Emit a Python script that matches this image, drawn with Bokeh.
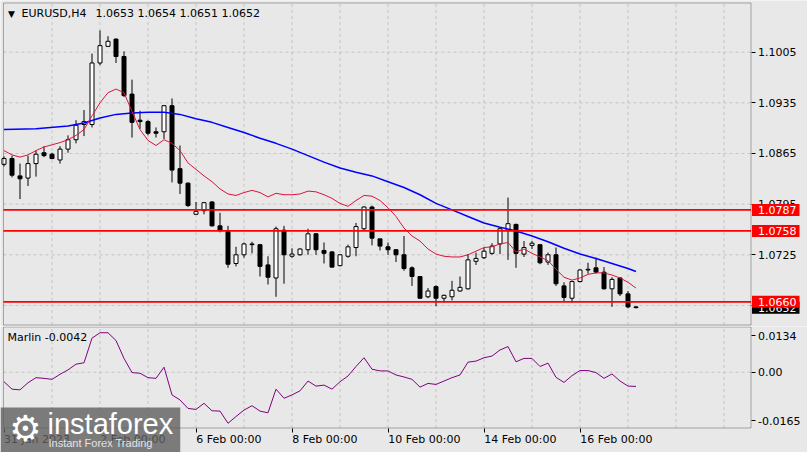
from bokeh.plotting import figure
from bokeh.layouts import column
from bokeh.models import (ColumnDataSource, FixedTicker, Range1d, Label, BoxAnnotation,
                          PrintfTickFormatter)
from bokeh.embed import file_html
from bokeh.resources import INLINE

# ---------------- data (EURUSD H4, bar 0 = 31 Jan 2023 00:00) ----------------
bars = list(range(80))
opens = [1.0850, 1.0858, 1.0834, 1.0831, 1.0851, 1.0866, 1.0864, 1.0856, 1.0871, 1.0884,
         1.0905, 1.0905, 1.0990, 1.1013, 1.1023, 1.0999, 1.0947, 1.0911, 1.0909, 1.0895,
         1.0895, 1.0931, 1.0844, 1.0824, 1.0781, 1.0786, 1.0798, 1.0765, 1.0757, 1.0713,
         1.0725, 1.0740, 1.0739, 1.0711, 1.0693, 1.0759, 1.0723, 1.0725, 1.0732, 1.0754,
         1.0731, 1.0729, 1.0710, 1.0723, 1.0735, 1.0761, 1.0791, 1.0747, 1.0736, 1.0732,
         1.0725, 1.0707, 1.0695, 1.0667, 1.0681, 1.0665, 1.0667, 1.0675, 1.0678, 1.0716,
         1.0721, 1.0727, 1.0740, 1.0759, 1.0767, 1.0726, 1.0738, 1.0739, 1.0715, 1.0725,
         1.0682, 1.0665, 1.0688, 1.0704, 1.0707, 1.0701, 1.0678, 1.0693, 1.0671, 1.0653]
highs = [1.0861, 1.0862, 1.0851, 1.0862, 1.0869, 1.0875, 1.0866, 1.0875, 1.0890, 1.0911,
         1.0925, 1.1003, 1.1035, 1.1027, 1.1024, 1.1006, 1.0967, 1.0924, 1.0911, 1.0901,
         1.0932, 1.0941, 1.0876, 1.0825, 1.0798, 1.0798, 1.0799, 1.0783, 1.0765, 1.0736,
         1.0742, 1.0743, 1.0740, 1.0723, 1.0764, 1.0765, 1.0734, 1.0734, 1.0761, 1.0755,
         1.0742, 1.0730, 1.0726, 1.0739, 1.0769, 1.0792, 1.0793, 1.0747, 1.0742, 1.0733,
         1.0751, 1.0709, 1.0695, 1.0679, 1.0683, 1.0670, 1.0689, 1.0695, 1.0726, 1.0728,
         1.0735, 1.0741, 1.0763, 1.0804, 1.0768, 1.0744, 1.0744, 1.0739, 1.0728, 1.0735,
         1.0687, 1.0689, 1.0705, 1.0714, 1.0721, 1.0708, 1.0694, 1.0694, 1.0675, 1.0654]
lows = [1.0847, 1.0832, 1.0802, 1.0820, 1.0833, 1.0860, 1.0857, 1.0851, 1.0866, 1.0879,
        1.0889, 1.0901, 1.0987, 1.1012, 1.0990, 1.0943, 1.0887, 1.0899, 1.0890, 1.0887,
        1.0885, 1.0825, 1.0809, 1.0791, 1.0780, 1.0781, 1.0764, 1.0756, 1.0707, 1.0709,
        1.0721, 1.0727, 1.0695, 1.0684, 1.0667, 1.0685, 1.0721, 1.0724, 1.0725, 1.0725,
        1.0713, 1.0707, 1.0709, 1.0721, 1.0723, 1.0758, 1.0738, 1.0731, 1.0725, 1.0715,
        1.0703, 1.0682, 1.0664, 1.0665, 1.0654, 1.0659, 1.0662, 1.0674, 1.0677, 1.0711,
        1.0719, 1.0725, 1.0726, 1.0718, 1.0707, 1.0722, 1.0733, 1.0712, 1.0711, 1.0682,
        1.0661, 1.0659, 1.0687, 1.0699, 1.0699, 1.0677, 1.0653, 1.0668, 1.0651, 1.0651]
closes = [1.0858, 1.0835, 1.0830, 1.0851, 1.0864, 1.0862, 1.0858, 1.0871, 1.0884, 1.0904,
          1.0909, 1.0990, 1.1014, 1.1020, 1.0999, 1.0945, 1.0908, 1.0909, 1.0893, 1.0893,
          1.0931, 1.0842, 1.0824, 1.0793, 1.0785, 1.0797, 1.0765, 1.0759, 1.0712, 1.0725,
          1.0740, 1.0739, 1.0709, 1.0694, 1.0761, 1.0725, 1.0726, 1.0733, 1.0754, 1.0732,
          1.0727, 1.0708, 1.0725, 1.0736, 1.0764, 1.0791, 1.0748, 1.0737, 1.0732, 1.0725,
          1.0706, 1.0695, 1.0665, 1.0675, 1.0665, 1.0669, 1.0676, 1.0680, 1.0718, 1.0720,
          1.0730, 1.0737, 1.0761, 1.0768, 1.0727, 1.0735, 1.0741, 1.0714, 1.0725, 1.0685,
          1.0666, 1.0688, 1.0704, 1.0705, 1.0701, 1.0678, 1.0691, 1.0671, 1.0653, 1.0652]

# red (fast) moving average, one value per bar
ma_fast = [1.0869, 1.0863, 1.0860, 1.0863, 1.0869, 1.0874, 1.0877, 1.0880, 1.0884, 1.0890,
           1.0898, 1.0917, 1.0935, 1.0949, 1.0954, 1.0949, 1.0923, 1.0898, 1.0883, 1.0876,
           1.0884, 1.0879, 1.0869, 1.0852, 1.0843, 1.0834, 1.0826, 1.0816, 1.0809, 1.0807,
           1.0811, 1.0814, 1.0811, 1.0805, 1.0810, 1.0808, 1.0808, 1.0809, 1.0813, 1.0812,
           1.0808, 1.0803, 1.0796, 1.0792, 1.0800, 1.0807, 1.0806, 1.0800, 1.0790, 1.0778,
           1.0762, 1.0751, 1.0744, 1.0733, 1.0726, 1.0723, 1.0722, 1.0722, 1.0725, 1.0730,
           1.0735, 1.0736, 1.0740, 1.0742, 1.0729, 1.0733, 1.0727, 1.0722, 1.0717, 1.0705,
           1.0694, 1.0690, 1.0693, 1.0698, 1.0700, 1.0700, 1.0697, 1.0693, 1.0687, 1.0679]

# blue (slow) moving average, read at these bars
ma_slow_bars = [0, 4, 8, 10, 12, 14, 16, 18, 20, 22, 24, 26, 28, 30, 32, 34, 36, 38, 40,
                42, 44, 46, 48, 50, 52, 54, 56, 58, 60, 62, 64, 66, 68, 70, 72, 74, 76, 78, 79]
ma_slow = [1.0898, 1.0899, 1.0903, 1.0907, 1.0914, 1.0919, 1.0921, 1.0922, 1.0922, 1.0919,
           1.0913, 1.0908, 1.0901, 1.0894, 1.0886, 1.0879, 1.0871, 1.0862, 1.0853, 1.0845,
           1.0839, 1.0834, 1.0826, 1.0818, 1.0808, 1.0796, 1.0787, 1.0778, 1.0769, 1.0763,
           1.0758, 1.0751, 1.0743, 1.0734, 1.0726, 1.0720, 1.0713, 1.0706, 1.0702]

# Marlin oscillator
marlin = [-0.0028, -0.0050, -0.0052, -0.0031, -0.0016, -0.0018, -0.0021, -0.0006, 0.0007, 0.0024,
          0.0028, 0.0101, 0.0117, 0.0117, 0.0094, 0.0041, -0.0001, -0.0003, -0.0016, -0.0018,
          0.0015, -0.0067, -0.0082, -0.0107, -0.0110, -0.0092, -0.0114, -0.0115, -0.0151, -0.0131,
          -0.0112, -0.0099, -0.0115, -0.0120, -0.0050, -0.0077, -0.0067, -0.0055, -0.0026, -0.0041,
          -0.0038, -0.0050, -0.0028, -0.0011, 0.0017, 0.0043, 0.0009, 0.0004, 0.0004, -0.0008,
          -0.0014, -0.0021, -0.0044, -0.0033, -0.0036, -0.0026, -0.0016, -0.0008, 0.0030, 0.0033,
          0.0043, 0.0048, 0.0066, 0.0076, 0.0031, 0.0041, 0.0041, 0.0017, 0.0027, -0.0015,
          -0.0030, -0.0010, 0.0005, 0.0005, -0.0001, -0.0018, -0.0005, -0.0026, -0.0041, -0.0042]

levels = [1.0787, 1.0758, 1.0660]
last_price = 1.0652
price_ticks = [1.1005, 1.0935, 1.0865, 1.0795, 1.0725, 1.0655]
price_top, price_bottom = 1.10729, 1.06280          # visible price window
date_ticks = [0, 12, 24, 36, 48, 60, 72]
date_labels = ["31 Jan 2023", "2 Feb 00:00", "6 Feb 00:00", "8 Feb 00:00",
               "10 Feb 00:00", "14 Feb 00:00", "16 Feb 00:00"]
grid_bars = list(range(6, 91, 6))
marlin_max, marlin_min = 0.0134, -0.0165
marlin_tick_labels = ["0.0134", "0.00", "-0.0165"]
title_symbol = "EURUSD,H4"
title_ohlc = "1.0653 1.0654 1.0651 1.0652"
indicator_name = "Marlin -0.0042"

# ---------------- layout / style ----------------
BG = "#e8e8e8"
GRID = "#c4c4c4"
FONT = "DejaVu Sans"
FS = "11px"
W = 807
P1_H, P2_H = 326, 126
PXB = 8.0                                  # pixels per bar
XS = -3.5 / PXB                            # frame left (data)


def xd(px):                                # canvas pixel -> bar units
    return XS + px / PXB


XL, XR = xd(3.0), xd(750.5)                # chart box left / right
x_range = Range1d(XS, xd(W))
B1_TOP, B1_BOT = 2.5, 324.5                # main box edges (canvas px)
B2_TOP, B2_BOT = 0.5, 101.5                # indicator box edges (canvas px)
u1 = (price_top - price_bottom) / (B1_BOT - B1_TOP)
u2 = (marlin_max - marlin_min) / (B2_BOT - B2_TOP)
Y1_FT = price_top + B1_TOP * u1            # value at canvas top of each panel
Y2_FT = marlin_max + B2_TOP * u2
y1 = Range1d(Y1_FT - P1_H * u1, Y1_FT)
y2 = Range1d(Y2_FT - P2_H * u2, Y2_FT)


def y1d(py):
    return Y1_FT - py * u1


def y2d(py):
    return Y2_FT - py * u2


# DejaVu Sans advance widths (em) for centring the date labels on the axis
ADV = {" ": 0.3179, ":": 0.3369, "J": 0.2949, "a": 0.6128, "n": 0.6338, "F": 0.5752,
       "e": 0.6152, "b": 0.6348}
ADV.update({d: 0.6362 for d in "0123456789"})


def text_px(s, size=11.0):
    return sum(ADV.get(ch, 0.6) for ch in s) * size


def make_fig(height, yr):
    p = figure(width=W, height=height, x_range=x_range, y_range=yr, title=None,
               output_backend="svg", toolbar_location=None,
               y_axis_location="right", x_axis_location="below",
               min_border=0, min_border_left=0, min_border_right=0,
               min_border_top=0, min_border_bottom=0,
               background_fill_color=BG, border_fill_color=BG,
               outline_line_color=None)
    p.grid.visible = False
    ax = p.yaxis[0]
    ax.fixed_location = XR
    ax.major_tick_out = 4
    ax.major_tick_in = 0
    ax.minor_tick_line_color = None
    ax.axis_line_color = None
    ax.major_label_standoff = 3
    ax.major_label_text_font = FONT
    ax.major_label_text_font_size = FS
    ax.major_label_text_color = "black"
    return p


def txt(x, y, text, align="left", baseline="middle", size=FS, font=FONT, color="black", **kw):
    return Label(x=x, y=y, text=text, text_align=align, text_baseline=baseline,
                 text_font=font, text_font_size=size, text_color=color, **kw)


def grid_lines(p, hticks, ylo, yhi):
    n = len(grid_bars)
    p.segment(x0=grid_bars, y0=[ylo] * n, x1=grid_bars, y1=[yhi] * n,
              line_color=GRID, line_dash="3 3", line_width=1)
    p.segment(x0=[XL] * len(hticks), y0=hticks, x1=[XR] * len(hticks), y1=hticks,
              line_color=GRID, line_dash="3 3", line_width=1)


# ---- main price panel ----
p1 = make_fig(P1_H, y1)
p1.xaxis.visible = False
p1.xaxis.fixed_location = price_bottom
p1.yaxis.ticker = FixedTicker(ticks=price_ticks)
p1.yaxis.formatter = PrintfTickFormatter(format="%.4f")
grid_lines(p1, price_ticks, price_bottom, price_top)

src = ColumnDataSource(dict(
    k=bars, o=opens, h=highs, l=lows, c=closes,
    top=[max(a, b) for a, b in zip(opens, closes)],
    bot=[min(a, b) for a, b in zip(opens, closes)],
    fill=["white" if c >= o else "black" for o, c in zip(opens, closes)],
))
p1.segment(x0="k", y0="l", x1="k", y1="h", source=src, line_color="black", line_width=1)
p1.vbar(x="k", width=0.5, top="top", bottom="bot", fill_color="fill",
        line_color="black", line_width=1, source=src)
p1.line(ma_slow_bars, ma_slow, line_color="#0000ff", line_width=1.5)
p1.line(bars, ma_fast, line_color="#dc143c", line_width=1)
p1.segment(x0=[XL] * len(levels), y0=levels, x1=[XR] * len(levels), y1=levels,
           line_color="#ff0000", line_width=1.7)

p1.add_layout(BoxAnnotation(left=XL, right=XR, top=price_top, bottom=price_bottom,
                            fill_color=None, fill_alpha=0, line_color="black", line_width=1))

# price boxes on the right scale
box_x = xd(751.5)
pad = dict(left=6, right=3, top=2, bottom=2)
p1.add_layout(txt(box_x, last_price, f"{last_price:.4f}", color="white",
                  background_fill_color="black", padding=pad))
for lev in levels:
    p1.add_layout(txt(box_x, lev, f"{lev:.4f}", color="white",
                      background_fill_color="#ff0000", padding=pad))

# title
p1.add_layout(txt(xd(11), y1d(13.5), "\u25bc", align="center", size="9px"))
p1.add_layout(txt(xd(21), y1d(13), title_symbol))
p1.add_layout(txt(xd(95), y1d(13), title_ohlc))

# ---- indicator panel ----
p2 = make_fig(P2_H, y2)
grid_lines(p2, [0.0], marlin_min, marlin_max)
m_ticks = [y2d(B2_TOP + 8.5), 0.0, y2d(B2_BOT - 7.5)]
p2.yaxis.ticker = FixedTicker(ticks=m_ticks)
p2.yaxis.major_label_overrides = {t: s for t, s in zip(m_ticks, marlin_tick_labels)}

# date axis: labels centred so they start at their date tick (MT4 style), ticks as minor ticks
centers = [k + text_px(s) / 2.0 / PXB for k, s in zip(date_ticks, date_labels)]
xa = p2.xaxis[0]
xa.fixed_location = marlin_min
xa.ticker = FixedTicker(ticks=centers, minor_ticks=date_ticks)
xa.major_label_overrides = {c: s for c, s in zip(centers, date_labels)}
xa.major_tick_line_color = None
xa.major_tick_out = 0
xa.major_tick_in = 0
xa.minor_tick_line_color = "black"
xa.minor_tick_out = 4
xa.minor_tick_in = 0
xa.axis_line_color = None
xa.major_label_standoff = 1
xa.major_label_text_font = FONT
xa.major_label_text_font_size = FS
xa.major_label_text_color = "black"

p2.line(bars, marlin, line_color="#800080", line_width=1)
p2.add_layout(BoxAnnotation(left=XL, right=XR, top=marlin_max, bottom=marlin_min,
                            fill_color=None, fill_alpha=0, line_color="black", line_width=1))
p2.add_layout(txt(xd(7), y2d(11), indicator_name))

# watermark
p2.add_layout(Label(x=xd(0), y=y2d(81), text="instaforex", text_align="left",
                    text_baseline="top", text_font="Liberation Sans", text_font_size="29px",
                    text_color="white", background_fill_color="#5f5f5f",
                    background_fill_alpha=0.8,
                    padding=dict(left=47, right=7, top=0, bottom=14)))
p2.add_layout(txt(xd(25), y2d(102), "\u2699", align="center", size="36px", color="white"))
p2.add_layout(txt(xd(48), y2d(116), "Instant Forex Trading",
                  font="Liberation Sans", size="11px", color="#e4e4e4"))

layout = column(p1, p2, spacing=0)
open("out.html", "w").write(file_html(layout, INLINE))
